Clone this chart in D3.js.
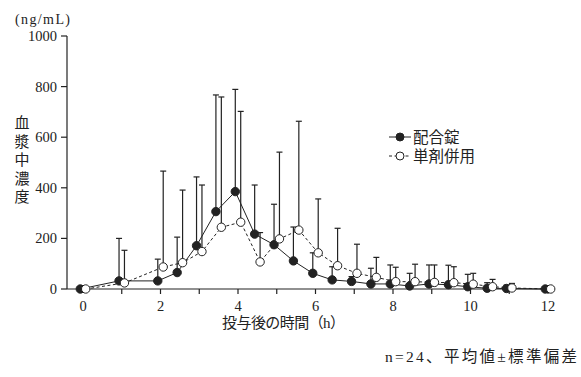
<!DOCTYPE html>
<html>
<head>
<meta charset="utf-8">
<script src="https://cdn.jsdelivr.net/npm/d3@7"></script>
<style>
  body { margin: 0; background: #fff; }
  svg text { font-family: "Liberation Serif", "DejaVu Serif", "Noto Sans CJK JP", serif; fill: #222; }
</style>
</head>
<body>
<div id="chart"></div>
<script>
// 測定時点 (h)
const times = [0, 1, 2, 2.5, 3, 3.5, 4, 4.5, 5, 5.5, 6, 6.5, 7, 7.5, 8, 8.5, 9, 9.5, 10, 10.5, 11, 12];

// 配合錠 平均値 / 平均値+SD
const comboMean = [0, 32, 32, 65, 171, 306, 385, 217, 175, 111, 62, 36, 30, 20, 20, 12, 20, 17, 9, 3, 2, 0];
const comboUpper = [0, 200, 118, 205, 443, 767, 789, 411, 335, 245, 143, 88, 49, 82, 95, 62, 95, 94, 58, 25, 15, 0];

// 単剤併用 平均値 / 平均値+SD
const singleMean = [0, 24, 87, 104, 148, 244, 264, 107, 198, 233, 143, 92, 62, 46, 29, 29, 26, 25, 19, 9, 4, 0];
const singleUpper = [0, 153, 466, 391, 411, 759, 702, 223, 541, 663, 356, 240, 177, 125, 86, 98, 95, 88, 62, 38, 22, 0];

const xTicks = [0, 2, 4, 6, 8, 10, 12];
const yTicks = [0, 200, 400, 600, 800, 1000];

const width = 581, height = 377;
const svg = d3.select("#chart").append("svg")
    .attr("width", width).attr("height", height);

const x = d3.scaleLinear().domain([0, 12]).range([83, 548]);
const y = d3.scaleLinear().domain([0, 1000]).range([289, 36]);
const axisLeftX = 67;
const ink = "#222";

// 軸
svg.append("line").attr("x1", axisLeftX).attr("x2", axisLeftX)
    .attr("y1", y(1000)).attr("y2", y(0)).attr("stroke", ink).attr("stroke-width", 1.2);
svg.append("line").attr("x1", axisLeftX).attr("x2", x(12))
    .attr("y1", y(0)).attr("y2", y(0)).attr("stroke", ink).attr("stroke-width", 1.2);

// y ticks
yTicks.forEach(t => {
    svg.append("line").attr("x1", axisLeftX - 6).attr("x2", axisLeftX)
        .attr("y1", y(t)).attr("y2", y(t)).attr("stroke", ink).attr("stroke-width", 1.2);
    svg.append("text").attr("x", axisLeftX - 10).attr("y", y(t) + 5)
        .attr("text-anchor", "end").attr("font-size", 14.5).text(t);
});

// x ticks (毎時, ラベルは2時間ごと)
d3.range(1, 13).forEach(t => {
    svg.append("line").attr("x1", x(t)).attr("x2", x(t))
        .attr("y1", y(0)).attr("y2", y(0) + 5).attr("stroke", ink).attr("stroke-width", 1.2);
});
xTicks.forEach(t => {
    svg.append("text").attr("x", x(t)).attr("y", 311)
        .attr("text-anchor", "middle").attr("font-size", 14.5).text(t);
});

// 軸タイトル
svg.append("text").attr("x", 15).attr("y", 24).attr("font-size", 14)
    .attr("textLength", 55).attr("lengthAdjust", "spacing").text("(ng/mL)");
"血漿中濃度".split("").forEach((c, i) => {
    svg.append("text").attr("x", 22).attr("y", 128 + i * 18.5)
        .attr("text-anchor", "middle").attr("font-size", 15).text(c);
});
svg.append("text").attr("x", 222).attr("y", 328).attr("font-size", 15)
    .attr("textLength", 123).attr("lengthAdjust", "spacing").text("投与後の時間（h）");
svg.append("text").attr("x", 385).attr("y", 362)
    .attr("font-size", 15.5).attr("textLength", 192).attr("lengthAdjust", "spacing")
    .text("n=24、平均値±標準偏差");

// シリーズ
const series = [
    { mean: comboMean, upper: comboUpper, dx: -0.07, fill: ink, dash: null },
    { mean: singleMean, upper: singleUpper, dx: 0.07, fill: "#fff", dash: "3,2.5" }
];

const line = d3.line().x(d => x(d.t)).y(d => y(d.v));

series.forEach(s => {
    const pts = times.map((t, i) => ({ t: t + s.dx, v: s.mean[i], u: s.upper[i] }));
    // error bars
    const eb = svg.append("g").attr("stroke", ink).attr("stroke-width", 1.2);
    pts.filter(p => p.u > p.v + 3).forEach(p => {
        eb.append("line").attr("x1", x(p.t)).attr("x2", x(p.t))
            .attr("y1", y(p.v)).attr("y2", y(p.u));
        eb.append("line").attr("x1", x(p.t) - 3).attr("x2", x(p.t) + 3)
            .attr("y1", y(p.u)).attr("y2", y(p.u));
    });
    svg.append("path").datum(pts).attr("d", line)
        .attr("fill", "none").attr("stroke", ink).attr("stroke-width", 1)
        .attr("stroke-dasharray", s.dash);
});

series.forEach(s => {
    const pts = times.map((t, i) => ({ t: t + s.dx, v: s.mean[i] }));
    svg.append("g").selectAll("circle").data(pts).enter().append("circle")
        .attr("cx", d => x(d.t)).attr("cy", d => y(d.v)).attr("r", 4.2)
        .attr("fill", s.fill).attr("stroke", ink).attr("stroke-width", 1);
});

// 凡例
const legend = [
    { label: "配合錠", fill: ink, dash: null, y: 137 },
    { label: "単剤併用", fill: "#fff", dash: "3,2.5", y: 156 }
];
legend.forEach(l => {
    svg.append("line").attr("x1", 389).attr("x2", 411).attr("y1", l.y).attr("y2", l.y)
        .attr("stroke", ink).attr("stroke-width", 1).attr("stroke-dasharray", l.dash);
    svg.append("circle").attr("cx", 400).attr("cy", l.y).attr("r", 4)
        .attr("fill", l.fill).attr("stroke", ink);
    svg.append("text").attr("x", 413).attr("y", l.y + 5.5).attr("font-size", 15.5).text(l.label);
});
</script>
</body>
</html>
